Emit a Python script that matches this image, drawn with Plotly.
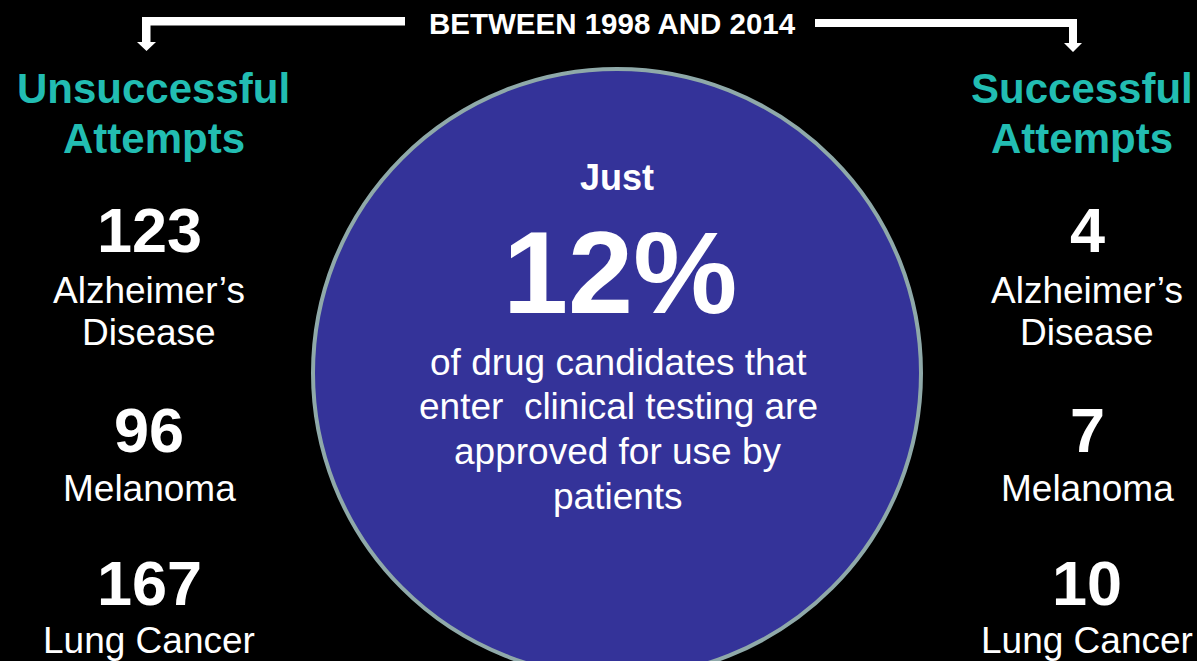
import plotly.graph_objects as go

# Clinical trial outcomes, 1998-2014
diseases = [["Alzheimer’s", "Disease"], ["Melanoma"], ["Lung Cancer"]]
unsuccessful = [123, 96, 167]
successful = [4, 7, 10]
approval_pct = 12
period = "BETWEEN 1998 AND 2014"
message = ["of drug candidates that", "enter  clinical testing are",
           "approved for use by", "patients"]

W, H = 1197, 661
FONT = "Arial, Liberation Sans, sans-serif"
TEAL = "#22BDB2"
WHITE = "#FFFFFF"

fig = go.Figure()

shapes = [
    # central circle
    dict(type="circle", xref="x", yref="y", x0=313, x1=921, y0=69, y1=677,
         fillcolor="#343399", line=dict(color="#8FA9A9", width=4), layer="below"),
    # left bracket arrow
    dict(type="path", xref="x", yref="y",
         path="M405,17 L142,17 L142,42 L137,42 L146.5,51 L156,42 L150.5,42 L150.5,25.5 L405,25.5 Z",
         fillcolor=WHITE, line=dict(width=0)),
    # right bracket arrow
    dict(type="path", xref="x", yref="y",
         path="M815,19 L1077,19 L1077,43 L1082,43 L1073,52 L1064,43 L1069,43 L1069,27 L815,27 Z",
         fillcolor=WHITE, line=dict(width=0)),
]

ann = []


def text(x, y, s, size, color=WHITE, bold=False):
    ann.append(dict(x=x, y=y, xref="x", yref="y", text=f"<b>{s}</b>" if bold else s,
                    showarrow=False, xanchor="center", yanchor="middle",
                    font=dict(family=FONT, size=size, color=color)))


text(612, 23, period, 29.5, bold=True)

# column headers
text(153.5, 88, "Unsuccessful", 42, TEAL, bold=True)
text(153.5, 138, "Attempts", 42, TEAL, bold=True)
text(1082, 88, "Successful", 42, TEAL, bold=True)
text(1082, 138, "Attempts", 42, TEAL, bold=True)

num_y = [230, 430, 583]
label_y = [290, 488, 640]
LINE = 42
for d, u, s, ny, ly in zip(diseases, unsuccessful, successful, num_y, label_y):
    text(149, ny, str(u), 63, bold=True)
    text(1087, ny, str(s), 63, bold=True)
    for i, line in enumerate(d):
        text(149, ly + i * LINE, line, 37)
        text(1087, ly + i * LINE, line, 37)

# center message
text(617, 177, "Just", 36, bold=True)
text(620, 272, f"{approval_pct}%", 117, bold=True)
for i, line in enumerate(message):
    text(618, 362 + i * 44.7, line, 37)

fig.update_layout(
    width=W, height=H, margin=dict(l=0, r=0, t=0, b=0),
    paper_bgcolor="#000000", plot_bgcolor="#000000",
    xaxis=dict(range=[0, W], visible=False, fixedrange=True),
    yaxis=dict(range=[H, 0], visible=False, fixedrange=True),
    shapes=shapes, annotations=ann, showlegend=False,
)

fig.write_html("out.html", config={"displayModeBar": False})
